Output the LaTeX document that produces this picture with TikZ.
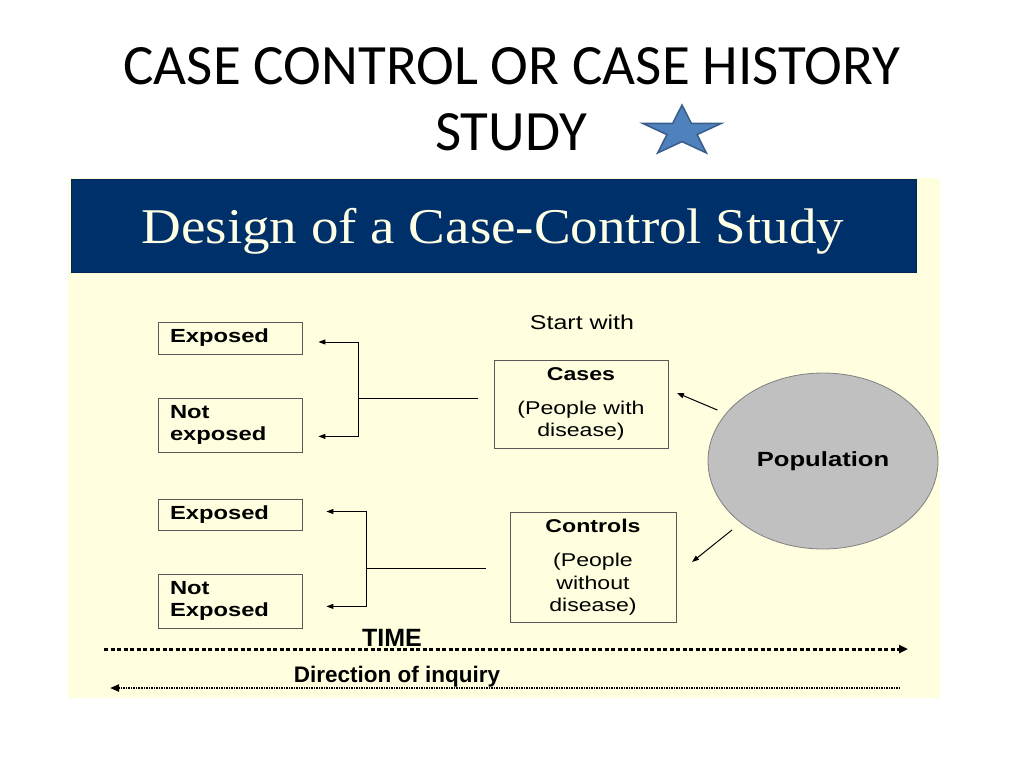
\documentclass[tikz,border=0pt]{standalone}
\usepackage{fontspec}
\setmainfont{Liberation Sans}
\newfontfamily\slidefont{Carlito}
\newfontfamily\bandfont[FakeStretch=1.1]{Liberation Serif}
\newfontfamily\boxfont[FakeStretch=1.25]{Liberation Sans}
\usetikzlibrary{arrows.meta,shapes.geometric}
\definecolor{panelcream}{HTML}{FFFFE0}
\definecolor{bandnavy}{HTML}{00306A}
\definecolor{bandtext}{HTML}{FFFFE6}
\definecolor{popgray}{HTML}{C0C0C0}
\definecolor{starblue}{HTML}{4F81BD}
\definecolor{starline}{HTML}{385D8A}
\tikzset{
  slidetitle/.style={font=\slidefont\fontsize{57}{66}\selectfont},
  exbox/.style={draw=black!65, line width=0.8pt, inner xsep=12pt, inner ysep=0pt,
    text width=120pt, align=left, font=\boxfont\bfseries\fontsize{19}{22}\selectfont},
  grpbox/.style={draw=black!65, line width=0.8pt, inner sep=0pt, align=center,
    font=\boxfont\fontsize{18.5}{22.5}\selectfont},
  arr/.style={-{Triangle[length=7pt,width=5pt]}, line width=1pt},
  timelabel/.style={font=\bfseries\fontsize{25}{25}\selectfont}
}
\begin{document}
\begin{tikzpicture}[x=1pt,y=-1pt]
\useasboundingbox (0,0) rectangle (1024,768);
% slide title
\node[slidetitle, anchor=base] (title) at (512,84) {CASE CONTROL OR CASE HISTORY};
\node[slidetitle, anchor=base] (title2) at (511,150) {STUDY};
\begin{scope}[shift={(682,131.5)}, xscale=41.5, yscale=-26.5]
\filldraw[fill=starblue, draw=starline, line width=1.5pt] (90:1) -- (126:0.382) -- (162:1) -- (198:0.382) -- (234:1)
  -- (270:0.382) -- (306:1) -- (342:0.382) -- (18:1) -- (54:0.382) -- cycle;
\end{scope}
% panel and band
\fill[panelcream] (68,178) rectangle (940,698);
\filldraw[fill=bandnavy, draw=bandnavy!80!black] (71,179) rectangle (916,272);
\node[anchor=base, text=bandtext, font=\bandfont\fontsize{50}{50}\selectfont] (band) at (493,243) {Design of a Case-Control Study};
% exposure boxes
\node[exbox, minimum height=32pt] (exp1) at (230,338) {Exposed};
\node[exbox, minimum height=54pt] (nexp1) at (230,425) {Not\\exposed};
\node[exbox, minimum height=31pt] (exp2) at (230,514.5) {Exposed};
\node[exbox, minimum height=54pt] (nexp2) at (230,601) {Not\\Exposed};
% groups
\node[anchor=base, font=\boxfont\fontsize{20}{20}\selectfont] (start) at (582,329) {Start with};
\node[grpbox, minimum width=174pt, minimum height=88pt] (cases) at (581,404) {\textbf{Cases}\\[11pt](People with\\disease)};
\node[grpbox, minimum width=166pt, minimum height=110pt] (controls) at (593,567) {\textbf{Controls}\\[12pt](People\\without\\disease)};
\node[ellipse, minimum width=230pt, minimum height=176pt, fill=popgray, draw=black!50, line width=0.8pt,
  font=\boxfont\bfseries\fontsize{20.5}{20.5}\selectfont] (pop) at (823,461) {Population};
% brackets
\coordinate (fork1) at (358,398);
\coordinate (lead1) at (478,398);
\coordinate (fork2) at (366,568);
\coordinate (lead2) at (486,568);
\draw[line width=0.8pt] (lead1) -- (fork1);
\draw[arr] (fork1) |- ([shift={(16pt,-4pt)}]exp1.east);
\draw[arr] (fork1) |- ([shift={(16pt,16pt)}]nexp1.south east);
\draw[line width=0.8pt] (lead2) -- (fork2);
\draw[arr] (fork2) |- ([shift={(24pt,3pt)}]exp2.east);
\draw[arr] (fork2) |- ([shift={(24pt,22pt)}]nexp2.south east);
% sampling arrows
\coordinate (tocases) at (677,393);
\coordinate (tocontrols) at (692,562);
\draw[arr, shorten <=9pt] (pop.154) -- (tocases);
\draw[arr, shorten <=11pt] (pop.217) -- (tocontrols);
% time axis
\coordinate (timeL) at (104,649);
\coordinate (timeR) at (908,649);
\coordinate (inqR) at (900,688);
\coordinate (inqL) at (110,688);
\draw[line width=3pt, dash pattern=on 4pt off 2.5pt, -{Triangle[length=9pt,width=8pt]}] (timeL) -- (timeR);
\draw[line width=2pt, dash pattern=on 1.5pt off 1pt, -{Triangle[length=9pt,width=7pt]}] (inqR) -- (inqL);
\node[timelabel, anchor=base] (time) at (392,646) {TIME};
\node[anchor=base, font=\bfseries\fontsize{22.5}{22.5}\selectfont] (inquiry) at (397,682) {Direction of inquiry};
\end{tikzpicture}
\end{document}
